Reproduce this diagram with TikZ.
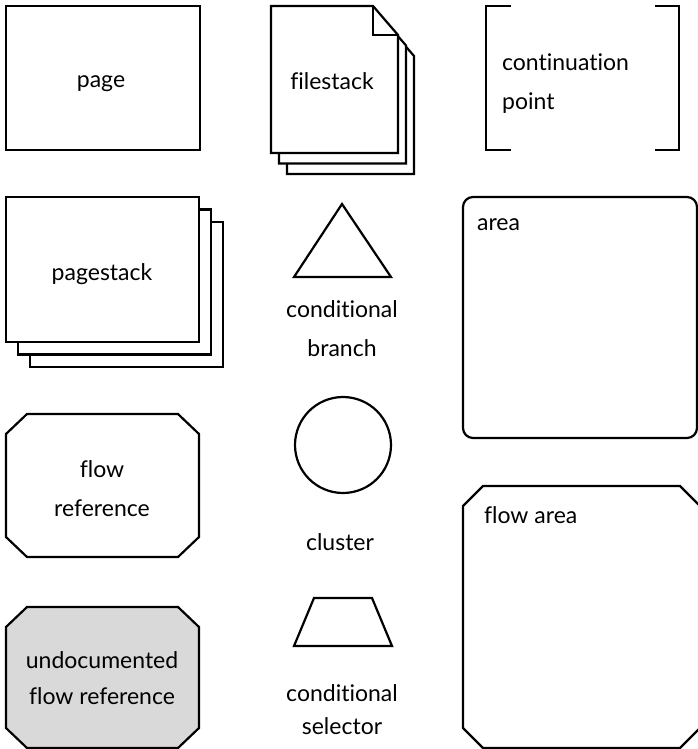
\documentclass[tikz,border=0pt]{standalone}
\usepackage{fontspec}
\setmainfont{Lato}[Ligatures=NoCommon]
\usepackage{xcolor}

\definecolor{undoc}{HTML}{D9D9D9}

\begin{document}
\begin{tikzpicture}[x = 1pt, y = -1pt, line width = 2.2pt,
    sheet/.style = {draw, fill = white},
    lbl/.style = {font = \fontsize{23}{39}\selectfont, align = center, inner sep = 0pt}]

\useasboundingbox (0, 0) rectangle (697, 749);

	%page
\draw [sheet] (6, 6) rectangle (200, 150);
\node [lbl, anchor = base] (page) at (101, 88) {page};

	%filestack, back sheets first
\draw [sheet, shift = {(16, 21)}] (271, 6) -- (373, 6) -- (398, 35) -- (398, 153) -- (271, 153) -- cycle;
\draw [sheet, shift = {(8, 10.5)}] (271, 6) -- (373, 6) -- (398, 35) -- (398, 153) -- (271, 153) -- cycle;
\draw [sheet] (271, 6) -- (373, 6) -- (398, 35) -- (398, 153) -- (271, 153) -- cycle;
\draw (373, 6) -- (373, 35) -- (398, 35);
\node [lbl, anchor = base] (filestack) at (332, 90) {filestack};

	%continuation point
\draw (511, 6) -- (486, 6) -- (486, 150) -- (511, 150);
\draw (655, 6) -- (679, 6) -- (679, 150) -- (655, 150);
\node [lbl, align = left, anchor = west] (contpt) at (501, 84) {continuation\\point};

	%pagestack
\draw [sheet, shift = {(24, 25)}] (6, 197) rectangle (199, 342);
\draw [sheet, shift = {(12, 12.5)}] (6, 197) rectangle (199, 342);
\draw [sheet] (6, 197) rectangle (199, 342);
\node [lbl, anchor = base] (pagestack) at (102, 280) {pagestack};

	%conditional branch
\draw (342, 204) -- (391, 277) -- (294, 277) -- cycle;
\node [lbl] (branch) at (342, 329) {conditional\\branch};

	%area
\draw [rounded corners = 10pt] (463, 197) rectangle (697, 438);
\node [lbl, anchor = base west] (area) at (476, 230) {area};

	%flow reference
\draw (27, 414) -- (178, 414) -- (199, 434) -- (199, 537) -- (178, 557) -- (27, 557) -- (6, 537) -- (6, 434) -- cycle;
\node [lbl] (flowref) at (102, 489) {flow\\reference};

	%cluster
\node [draw, circle, minimum size = 96pt] (cluster) at (343, 445) {};
\node [lbl, anchor = base] (clusterlbl) at (340, 550) {cluster};

	%flow area
\draw (483, 486) -- (680, 486) -- (700, 506) -- (700, 728) -- (680, 748) -- (483, 748) -- (463, 728) -- (463, 506) -- cycle;
\node [lbl, anchor = base west] (flowarea) at (483, 523) {flow area};

	%undocumented flow reference
\draw [fill = undoc] (27, 607) -- (178, 607) -- (199, 627) -- (199, 728) -- (178, 748) -- (27, 748) -- (6, 728) -- (6, 627) -- cycle;
\node [lbl] (undocref) at (102, 678) {undocumented\\[-3pt]flow reference};

	%conditional selector
\draw (314, 598) -- (372, 598) -- (392, 646) -- (294, 646) -- cycle;
\node [lbl] (selector) at (342, 710) {conditional\\[-6pt]selector};

\end{tikzpicture}
\end{document}
